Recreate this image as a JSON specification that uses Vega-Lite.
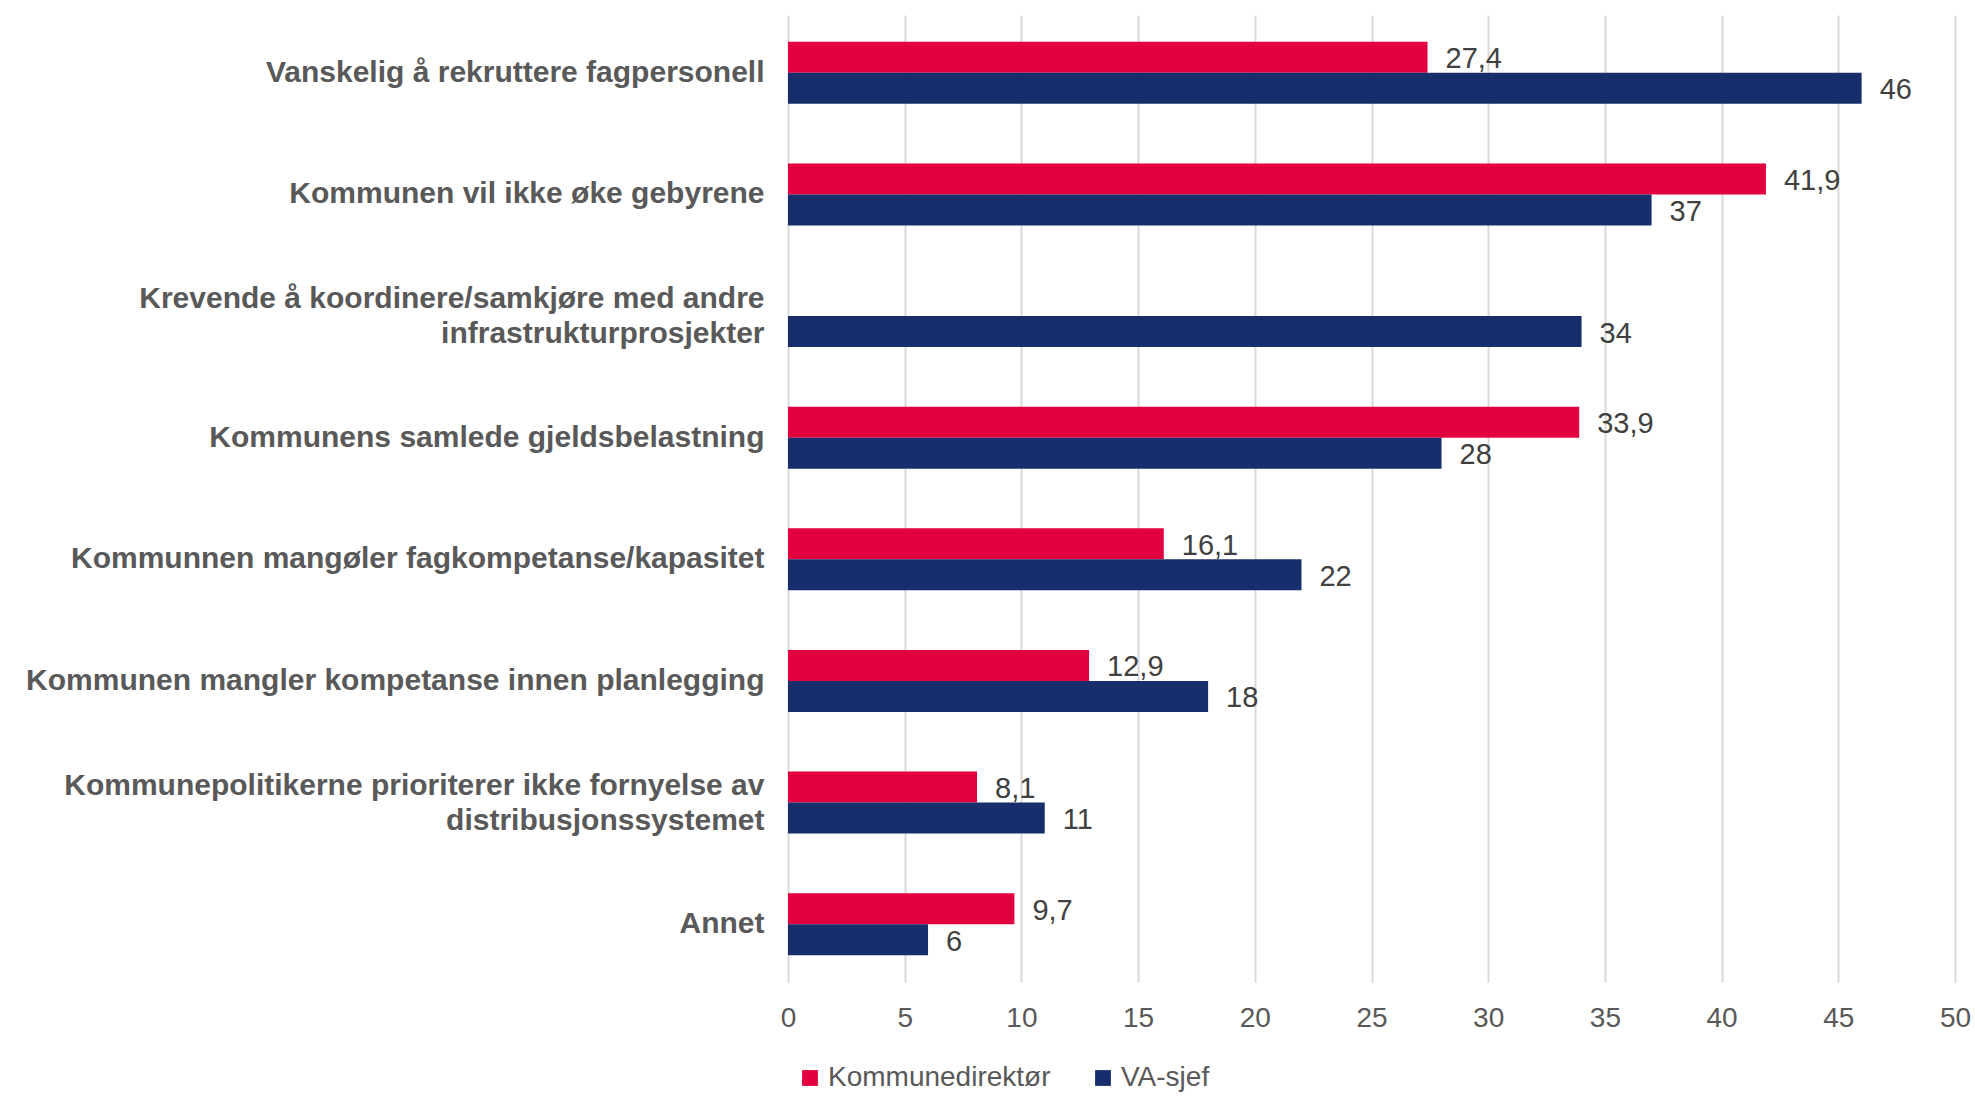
{
  "$schema": "https://vega.github.io/schema/vega-lite/v6.json",
  "width": 1167,
  "height": 967,
  "autosize": {"type": "none"},
  "padding": {"left": 788, "top": 15, "right": 20, "bottom": 119},
  "background": "white",
  "config": {
    "locale": {"number": {"decimal": ",", "thousands": " ", "grouping": [3], "currency": ["", " kr"]}},
    "view": {"stroke": null},
    "font": "Liberation Sans"
  },
  "data": {
    "values": [
      {"kategori": "Vanskelig å rekruttere fagpersonell", "gruppe": "Kommunedirektør", "verdi": 27.4},
      {"kategori": "Vanskelig å rekruttere fagpersonell", "gruppe": "VA-sjef", "verdi": 46},
      {"kategori": "Kommunen vil ikke øke gebyrene", "gruppe": "Kommunedirektør", "verdi": 41.9},
      {"kategori": "Kommunen vil ikke øke gebyrene", "gruppe": "VA-sjef", "verdi": 37},
      {"kategori": "Krevende å koordinere/samkjøre med andre|infrastrukturprosjekter", "gruppe": "VA-sjef", "verdi": 34},
      {"kategori": "Kommunens samlede gjeldsbelastning", "gruppe": "Kommunedirektør", "verdi": 33.9},
      {"kategori": "Kommunens samlede gjeldsbelastning", "gruppe": "VA-sjef", "verdi": 28},
      {"kategori": "Kommunnen mangøler fagkompetanse/kapasitet", "gruppe": "Kommunedirektør", "verdi": 16.1},
      {"kategori": "Kommunnen mangøler fagkompetanse/kapasitet", "gruppe": "VA-sjef", "verdi": 22},
      {"kategori": "Kommunen mangler kompetanse innen planlegging", "gruppe": "Kommunedirektør", "verdi": 12.9},
      {"kategori": "Kommunen mangler kompetanse innen planlegging", "gruppe": "VA-sjef", "verdi": 18},
      {"kategori": "Kommunepolitikerne prioriterer ikke fornyelse av|distribusjonssystemet", "gruppe": "Kommunedirektør", "verdi": 8.1},
      {"kategori": "Kommunepolitikerne prioriterer ikke fornyelse av|distribusjonssystemet", "gruppe": "VA-sjef", "verdi": 11},
      {"kategori": "Annet", "gruppe": "Kommunedirektør", "verdi": 9.7},
      {"kategori": "Annet", "gruppe": "VA-sjef", "verdi": 6}
    ]
  },
  "encoding": {
    "y": {
      "field": "kategori",
      "type": "nominal",
      "sort": null,
      "title": null,
      "scale": {"paddingInner": 0.49, "paddingOuter": 0.22},
      "axis": {
        "domain": false,
        "ticks": false,
        "grid": false,
        "labelExpr": "split(datum.label, '|')",
        "labelFontSize": 30,
        "labelFontWeight": "bold",
        "labelColor": "#595959",
        "labelPadding": 24,
        "labelLimit": 800,
        "labelLineHeight": 35,
        "labelOffset": {"condition": {"test": "indexof(datum.label, '|') >= 0", "value": -17}, "value": 0}
      }
    },
    "yOffset": {"field": "gruppe", "type": "nominal", "sort": ["Kommunedirektør", "VA-sjef"]},
    "x": {
      "field": "verdi",
      "type": "quantitative",
      "title": null,
      "scale": {"domain": [0, 50], "nice": false},
      "axis": {
        "values": [0, 5, 10, 15, 20, 25, 30, 35, 40, 45, 50],
        "domain": false,
        "ticks": false,
        "grid": true,
        "gridColor": "#D9D9D9",
        "gridWidth": 2,
        "labelFontSize": 28,
        "labelColor": "#595959",
        "labelPadding": 22,
        "labelFlush": false
      }
    }
  },
  "layer": [
    {
      "mark": {"type": "bar"},
      "encoding": {
        "color": {
          "field": "gruppe",
          "type": "nominal",
          "sort": ["Kommunedirektør", "VA-sjef"],
          "scale": {"domain": ["Kommunedirektør", "VA-sjef"], "range": ["#E2003F", "#182E6C"]},
          "legend": {
            "title": null,
            "orient": "none",
            "direction": "horizontal",
            "legendX": 8,
            "legendY": 1049,
            "symbolType": "square",
            "symbolSize": 250,
            "symbolStrokeWidth": 0,
            "labelFontSize": 28,
            "labelColor": "#595959",
            "labelOffset": 4,
            "labelLimit": 500,
            "columnPadding": 38
          }
        }
      }
    },
    {
      "mark": {"type": "text", "align": "left", "baseline": "middle", "dx": 18, "dy": 2, "fontSize": 29, "color": "#404040"},
      "encoding": {
        "text": {"field": "verdi", "type": "quantitative", "format": "~g"}
      }
    }
  ]
}
